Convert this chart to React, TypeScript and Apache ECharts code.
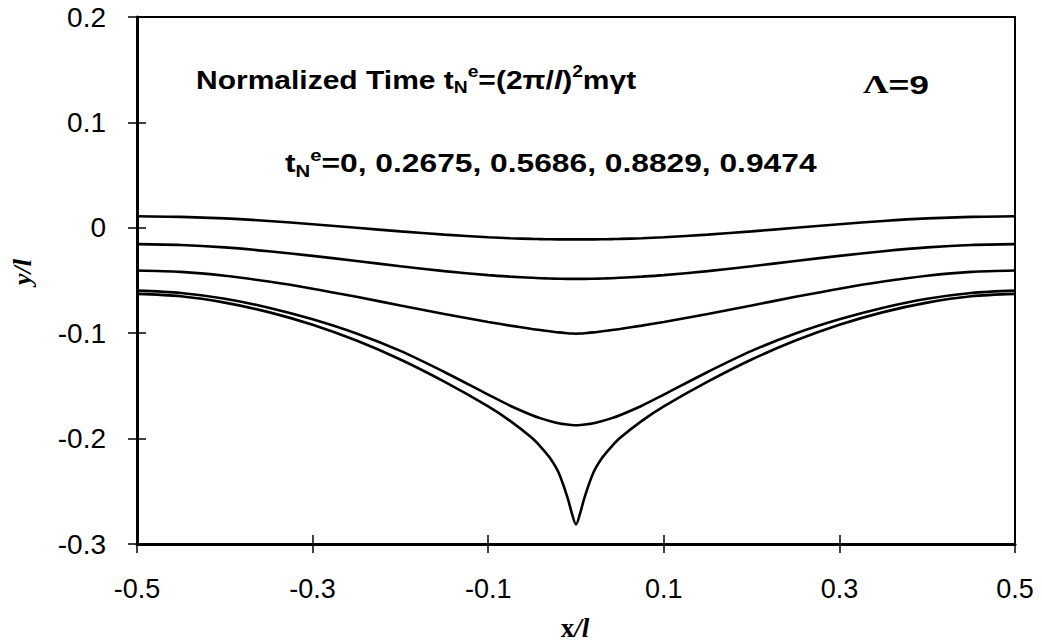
import React, { useEffect, useRef } from "react";
import * as echarts from "echarts";

// Horizontal positions x/l shared by every profile
const xPos = [
  -0.5, -0.45, -0.4, -0.35, -0.3, -0.25, -0.2, -0.15, -0.1, -0.075, -0.05, -0.04, -0.03, -0.02, -0.01, -0.005, 0,
  0.005, 0.01, 0.02, 0.03, 0.04, 0.05, 0.075, 0.1, 0.15, 0.2, 0.25, 0.3, 0.35, 0.4, 0.45, 0.5,
];

// Interface profiles y/l at t_N^e = 0, 0.2675, 0.5686, 0.8829, 0.9474
const profileT0 = [
  0.011, 0.0104, 0.0089, 0.0065, 0.0034, 0.0, -0.0034, -0.0065, -0.0089, -0.0099, -0.0105, -0.0107, -0.0109, -0.011, -0.011, -0.011, -0.011,
  -0.011, -0.011, -0.011, -0.0109, -0.0107, -0.0105, -0.0099, -0.0089, -0.0065, -0.0034, 0.0, 0.0034, 0.0065, 0.0089, 0.0104, 0.011,
];
const profileT1 = [
  -0.0155, -0.0163, -0.0186, -0.0222, -0.0266, -0.0315, -0.0365, -0.0411, -0.0449, -0.0463, -0.0474, -0.0478, -0.0481, -0.0483, -0.0485, -0.0485, -0.0485,
  -0.0485, -0.0485, -0.0483, -0.0481, -0.0478, -0.0474, -0.0463, -0.0449, -0.0411, -0.0365, -0.0315, -0.0266, -0.0222, -0.0186, -0.0163, -0.0155,
];
const profileT2 = [
  -0.0405, -0.0418, -0.0455, -0.051, -0.0578, -0.0655, -0.0737, -0.0818, -0.0893, -0.0928, -0.096, -0.0971, -0.0981, -0.0992, -0.1, -0.1003, -0.1005,
  -0.1003, -0.1, -0.0992, -0.0981, -0.0971, -0.096, -0.0928, -0.0893, -0.0818, -0.0737, -0.0655, -0.0578, -0.051, -0.0455, -0.0418, -0.0405,
];
const profileT3 = [
  -0.0596, -0.0618, -0.0673, -0.0758, -0.0868, -0.1003, -0.1168, -0.1368, -0.1583, -0.1688, -0.1778, -0.1808, -0.1834, -0.1854, -0.1867, -0.1871, -0.1873,
  -0.1871, -0.1867, -0.1854, -0.1834, -0.1808, -0.1778, -0.1688, -0.1583, -0.1368, -0.1168, -0.1003, -0.0868, -0.0758, -0.0673, -0.0618, -0.0596,
];
const profileT4 = [
  -0.0627, -0.065, -0.071, -0.08, -0.092, -0.107, -0.125, -0.146, -0.1695, -0.1832, -0.1995, -0.208, -0.218, -0.232, -0.255, -0.27, -0.2815,
  -0.27, -0.255, -0.232, -0.218, -0.208, -0.1995, -0.1832, -0.1695, -0.146, -0.125, -0.107, -0.092, -0.08, -0.071, -0.065, -0.0627,
];

const profiles = [profileT0, profileT1, profileT2, profileT3, profileT4];

// Axis ticks
const xTicks = [-0.5, -0.3, -0.1, 0.1, 0.3, 0.5];
const yMin = -0.3;
const yMax = 0.2;
const yStep = 0.1;

const SANS = "'Liberation Sans', Arial, sans-serif";
const SERIF = "'Liberation Serif', 'Times New Roman', serif";

const fmt = (v: number) => {
  const r = Math.round(v * 10) / 10;
  return r === 0 ? "0" : r.toFixed(1);
};

export default function App() {
  const ref = useRef<HTMLDivElement>(null);

  useEffect(() => {
    if (!ref.current) return;
    const chart = echarts.init(ref.current, undefined, { renderer: "svg" });

    const baseText = { fontFamily: SANS, fontWeight: "bold" as const, fontSize: 25, lineHeight: 32, color: "#000" };
    const subText = { fontFamily: SANS, fontWeight: "bold" as const, fontSize: 16, lineHeight: 16, color: "#000", verticalAlign: "bottom" as const };
    const supText = { fontFamily: SANS, fontWeight: "bold" as const, fontSize: 16, lineHeight: 16, color: "#000", verticalAlign: "top" as const };

    const xAxisCommon = {
      type: "value" as const,
      min: -0.5,
      max: 0.5,
      position: "bottom" as const,
      splitLine: { show: false },
    };
    const yAxisCommon = {
      type: "value" as const,
      min: yMin,
      max: yMax,
      interval: yStep,
      position: "left" as const,
      splitLine: { show: false },
    };

    chart.setOption({
      animation: false,
      backgroundColor: "#fff",
      grid: {
        left: 137,
        right: 27,
        top: 17,
        bottom: 100,
        show: true,
        borderColor: "#000",
        borderWidth: 2,
        backgroundColor: "transparent",
      },
      xAxis: [
        {
          ...xAxisCommon,
          axisLine: { show: true, onZero: false, lineStyle: { color: "#000", width: 3 } },
          axisTick: { show: true, inside: false, length: 9, customValues: xTicks, lineStyle: { color: "#000", width: 1.5 } },
          axisLabel: {
            show: true,
            customValues: xTicks,
            formatter: fmt,
            fontFamily: SANS,
            fontSize: 27,
            color: "#000",
            margin: 31,
          },
        },
        {
          ...xAxisCommon,
          axisLine: { show: false, onZero: false },
          axisTick: { show: true, inside: true, length: 9, customValues: xTicks, lineStyle: { color: "#000", width: 1.5 } },
          axisLabel: { show: false },
        },
      ],
      yAxis: [
        {
          ...yAxisCommon,
          axisLine: { show: true, onZero: false, lineStyle: { color: "#000", width: 3 } },
          axisTick: { show: true, inside: false, length: 9, lineStyle: { color: "#000", width: 1.5 } },
          axisLabel: { show: true, formatter: fmt, fontFamily: SANS, fontSize: 28, color: "#000", margin: 31 },
        },
        {
          ...yAxisCommon,
          axisLine: { show: false, onZero: false },
          axisTick: { show: true, inside: true, length: 9, lineStyle: { color: "#000", width: 1.5 } },
          axisLabel: { show: false },
        },
      ],
      series: profiles.map((vals, k) => ({
        name: `profile${k}`,
        type: "line",
        xAxisIndex: 0,
        yAxisIndex: 0,
        data: xPos.map((x, i) => [x, vals[i]]),
        symbol: "none",
        smooth: 0.3,
        lineStyle: { color: "#000", width: 2.6 },
        z: 3,
      })),
      graphic: [
        {
          type: "text",
          x: 196,
          y: 80,
          scaleX: 1.2,
          style: {
            text: "{n|Normalized Time t}{sub|N}{sup|e}{n|=(2π/}{it|l}{n|)}{sup|2}{n|mγt}",
            align: "left",
            verticalAlign: "middle",
            rich: {
              n: baseText,
              it: { ...baseText, fontStyle: "italic" },
              sub: subText,
              sup: supText,
            },
          },
        },
        {
          type: "text",
          x: 285,
          y: 163,
          scaleX: 1.27,
          style: {
            text: "{n|t}{sub|N}{sup|e}{n|=0, 0.2675, 0.5686, 0.8829, 0.9474}",
            align: "left",
            verticalAlign: "middle",
            rich: { n: baseText, sub: subText, sup: supText },
          },
        },
        {
          type: "text",
          x: 863,
          y: 85,
          scaleX: 1.42,
          style: {
            text: "{g|Λ}{n|=9}",
            align: "left",
            verticalAlign: "middle",
            rich: {
              g: { ...baseText, fontFamily: SERIF },
              n: baseText,
            },
          },
        },
        {
          type: "text",
          x: 22,
          y: 272,
          rotation: Math.PI / 2,
          style: {
            text: "{a|y/}{b|l}",
            align: "center",
            verticalAlign: "middle",
            rich: {
              a: { fontFamily: SERIF, fontWeight: "bold", fontStyle: "italic", fontSize: 26, color: "#000" },
              b: { fontFamily: SERIF, fontWeight: "bold", fontStyle: "italic", fontSize: 26, color: "#000" },
            },
          },
        },
        {
          type: "text",
          x: 575,
          y: 628,
          style: {
            text: "{a|x}{b|/l}",
            align: "center",
            verticalAlign: "middle",
            rich: {
              a: { fontFamily: SERIF, fontWeight: "bold", fontSize: 27, color: "#000" },
              b: { fontFamily: SERIF, fontWeight: "bold", fontStyle: "italic", fontSize: 27, color: "#000" },
            },
          },
        },
      ],
    });

    return () => chart.dispose();
  }, []);

  return (
    <div
      ref={ref}
      style={{ position: "fixed", left: 0, top: 0, width: 1042, height: 644, background: "#fff" }}
    />
  );
}
